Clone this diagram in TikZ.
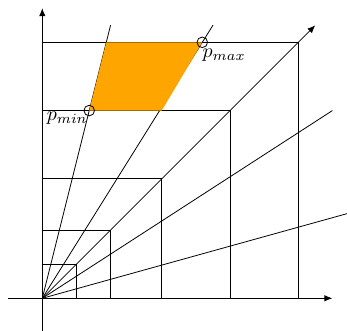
\documentclass[tikz,border=0pt]{standalone}
\usetikzlibrary{arrows.meta}
\definecolor{fillorange}{RGB}{255,165,0}
\begin{document}
\begin{tikzpicture}[x=0.6cm,y=0.6cm, line width=0.4pt,
  tip/.style={-{Latex[length=4pt,width=3.2pt]}},
  marker/.style={circle, draw, inner sep=0pt, minimum size=5.3pt},
  lbl/.style={inner sep=0pt}]
\useasboundingbox (-1.239,-0.929) rectangle (8.928,8.740);
\coordinate (O) at (0,0);
% nested squares
\foreach \s in {1,2,3.5,5.5,7.5} \draw (O) rectangle (\s,\s);
% axes
\coordinate (xs) at (-1,0); \coordinate (xe) at (8.5,0);
\coordinate (ys) at (0,-1); \coordinate (ye) at (0,8.5);
\draw[tip] (xs) -- (xe);
\draw[tip] (ys) -- (ye);
% rays
\coordinate (r1) at (2,8);
\coordinate (r2) at (5,8);
\coordinate (r3) at (8,8);
\coordinate (r4) at (8.5,5.5);
\coordinate (r5) at (9,2.5);
\draw (O) -- (r1);
\draw (O) -- (r2);
\draw[tip] (O) -- (r3);
\draw (O) -- (r4);
\draw (O) -- (r5);
% region
\coordinate (a) at (1.375,5.5);
\coordinate (b) at (1.875,7.5);
\coordinate (c) at (4.6875,7.5);
\coordinate (d) at (3.5,5.5);
\fill[fillorange] (a) -- (b) -- (c) -- (d) -- cycle;
% markers and labels
\node[marker] (pmin) at (a) {};
\node[marker] (pmax) at (c) {};
\node[lbl, anchor=north east] (lmin) at (1.339,5.467) {$p_{min}$};
\node[lbl, anchor=north west] (lmax) at (4.688,7.325) {$p_{max}$};
\end{tikzpicture}
\end{document}
